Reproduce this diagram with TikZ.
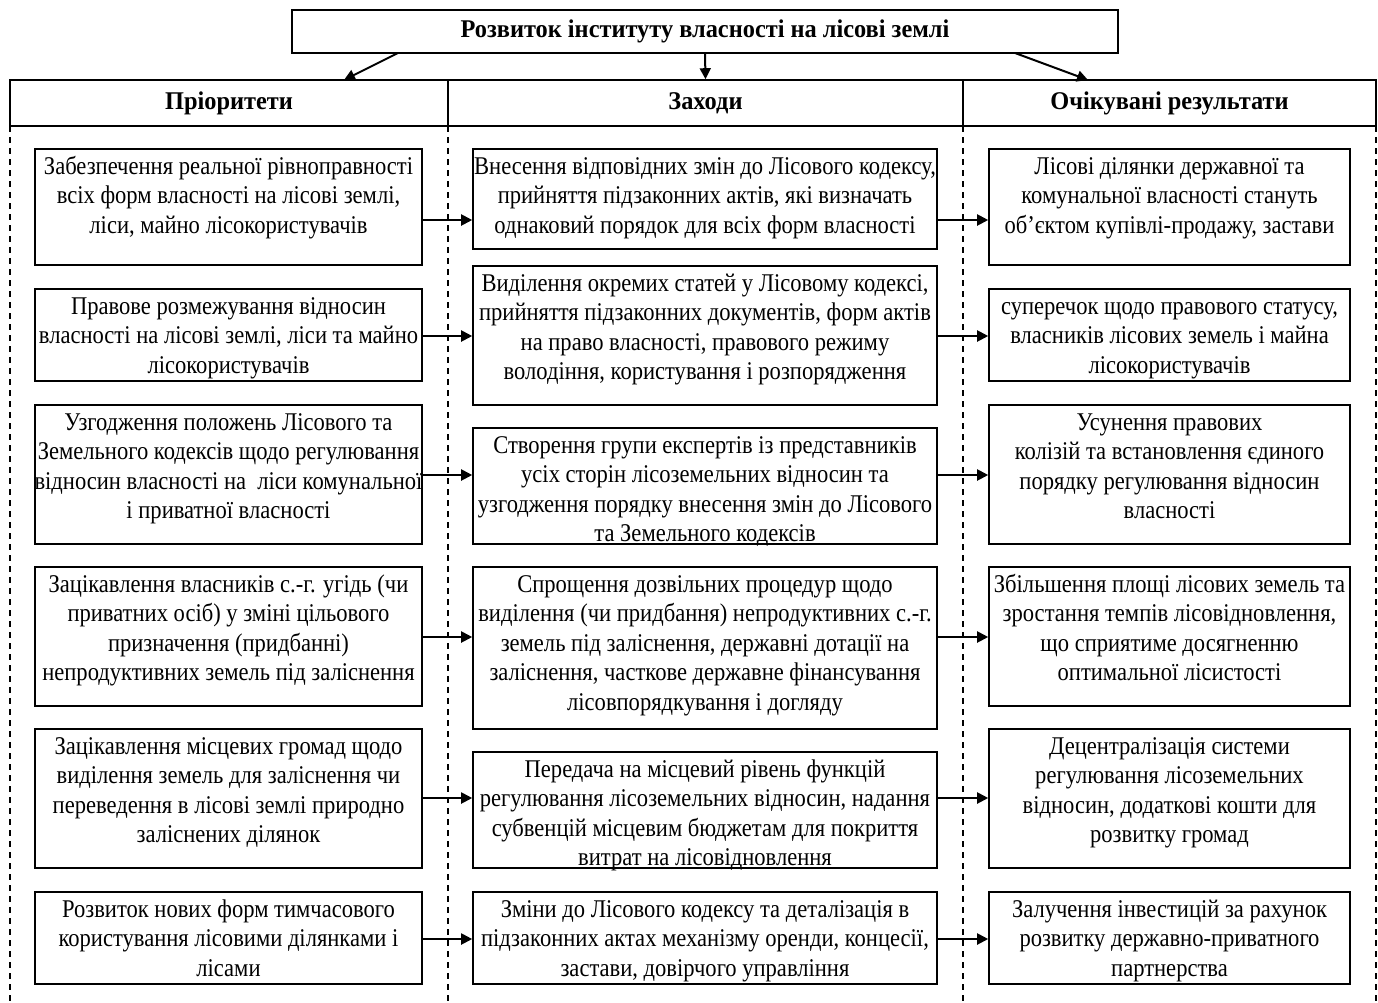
\documentclass[tikz,border=0pt]{standalone}
\usepackage{fontspec}
\setmainfont{Liberation Serif}[FakeStretch=0.885]
\newfontfamily\hfont{Liberation Serif}[FakeStretch=0.955]
\usetikzlibrary{arrows.meta}
\newcommand\mybox[6]{%
  \node[box, minimum width={#4-#2}, minimum height={#5-#3}] (#1) at ({(#2+#4)/2},{(#3+#5)/2}) {};
  \node[txt, anchor=north] (#1t) at ({(#2+#4)/2},{#3+4.5}) {\strut #6};
}
\begin{document}
\begin{tikzpicture}[x=1pt,y=-1pt,
  box/.style={draw, line width=1.6pt, inner sep=0pt},
  txt/.style={inner sep=0pt, align=center, font=\fontsize{25.5}{29.5}\selectfont},
  cell/.style={draw, line width=1.6pt, inner sep=0pt, font=\hfont\bfseries\fontsize{25.5}{28}\selectfont},
  arr/.style={line width=2pt, -{Triangle[length=11pt,width=11pt]}},
  dsh/.style={line width=1.1pt, dash pattern=on 6pt off 5pt}]
\useasboundingbox (0,0) rectangle (1378,1002);
% title
\node[box, minimum width=826, minimum height=43, font=\hfont\bfseries\fontsize{25.5}{28}\selectfont] (title) at (705,31.5) {Розвиток інституту власності на лісові землі};
% header cells
\node[cell, minimum width=438, minimum height=46] (h1) at (229,103) {Пріоритети};
\node[cell, minimum width=515, minimum height=46] (h2) at (705.5,103) {Заходи};
\node[cell, minimum width=413, minimum height=46] (h3) at (1169.5,103) {Очікувані результати};
% arrows from title
\coordinate (ts1) at (398,53); \coordinate (te1) at (344,80);
\coordinate (ts3) at (1015,53); \coordinate (te3) at (1088,80);
\draw[arr] (ts1) -- (te1);
\draw[arr] (title.south) -- (h2.north);
\draw[arr] (ts3) -- (te3);
% dashed column borders
\draw[dsh] (10,126) -- (10,1002);
\draw[dsh] (448,126) -- (448,1002);
\draw[dsh] (963,126) -- (963,1002);
\draw[dsh] (1376,126) -- (1376,1002);
% column 1
\mybox{p1}{35}{149}{422}{265}{Забезпечення реальної рівноправності\\всіх форм власності на лісові землі,\\ліси, майно лісокористувачів}
\mybox{p2}{35}{289}{422}{381}{Правове розмежування відносин\\власності на лісові землі, ліси та майно\\лісокористувачів}
\mybox{p3}{35}{405}{422}{544}{Узгодження положень Лісового та\\Земельного кодексів щодо регулювання\\відносин власності на\ \ ліси комунальної\\і приватної власності}
\mybox{p4}{35}{567}{422}{706}{Зацікавлення власників с.-г. угідь (чи\\приватних осіб) у зміні цільового\\призначення (придбанні)\\непродуктивних земель під заліснення}
\mybox{p5}{35}{729}{422}{868}{Зацікавлення місцевих громад щодо\\виділення земель для заліснення чи\\переведення в лісові землі природно\\заліснених ділянок}
\mybox{p6}{35}{892}{422}{984}{Розвиток нових форм тимчасового\\користування лісовими ділянками і\\лісами}
% column 2
\mybox{m1}{473}{149}{937}{249}{Внесення відповідних змін до Лісового кодексу,\\прийняття підзаконних актів, які визначать\\однаковий порядок для всіх форм власності}
\mybox{m2}{473}{266}{937}{405}{Виділення окремих статей у Лісовому кодексі,\\прийняття підзаконних документів, форм актів\\на право власності, правового режиму\\володіння, користування і розпорядження}
\mybox{m3}{473}{428}{937}{544}{Створення групи експертів із представників\\усіх сторін лісоземельних відносин та\\узгодження порядку внесення змін до Лісового\\та Земельного кодексів}
\mybox{m4}{473}{567}{937}{729}{Спрощення дозвільних процедур щодо\\виділення (чи придбання) непродуктивних с.-г.\\земель під заліснення, державні дотації на\\заліснення, часткове державне фінансування\\лісовпорядкування і догляду}
\mybox{m5}{473}{752}{937}{868}{Передача на місцевий рівень функцій\\регулювання лісоземельних відносин, надання\\субвенцій місцевим бюджетам для покриття\\витрат на лісовідновлення}
\mybox{m6}{473}{892}{937}{984}{Зміни до Лісового кодексу та деталізація в\\підзаконних актах механізму оренди, концесії,\\застави, довірчого управління}
% column 3
\mybox{r1}{989}{149}{1350}{265}{Лісові ділянки державної та\\комунальної власності стануть\\об’єктом купівлі-продажу, застави}
\mybox{r2}{989}{289}{1350}{381}{суперечок щодо правового статусу,\\власників лісових земель і майна\\лісокористувачів}
\mybox{r3}{989}{405}{1350}{544}{Усунення правових\\колізій та встановлення єдиного\\порядку регулювання відносин\\власності}
\mybox{r4}{989}{567}{1350}{706}{Збільшення площі лісових земель та\\зростання темпів лісовідновлення,\\що сприятиме досягненню\\оптимальної лісистості}
\mybox{r5}{989}{729}{1350}{868}{Децентралізація системи\\регулювання лісоземельних\\відносин, додаткові кошти для\\розвитку громад}
\mybox{r6}{989}{892}{1350}{984}{Залучення інвестицій за рахунок\\розвитку державно-приватного\\партнерства}
% row arrows
\foreach \i/\yy in {1/220,2/336,3/475,4/637,5/798,6/939}{
  \coordinate (y\i) at (0,\yy);
  \draw[arr] (p\i.east |- y\i) -- (m\i.west |- y\i);
  \draw[arr] (m\i.east |- y\i) -- (r\i.west |- y\i);
}
\end{tikzpicture}
\end{document}
